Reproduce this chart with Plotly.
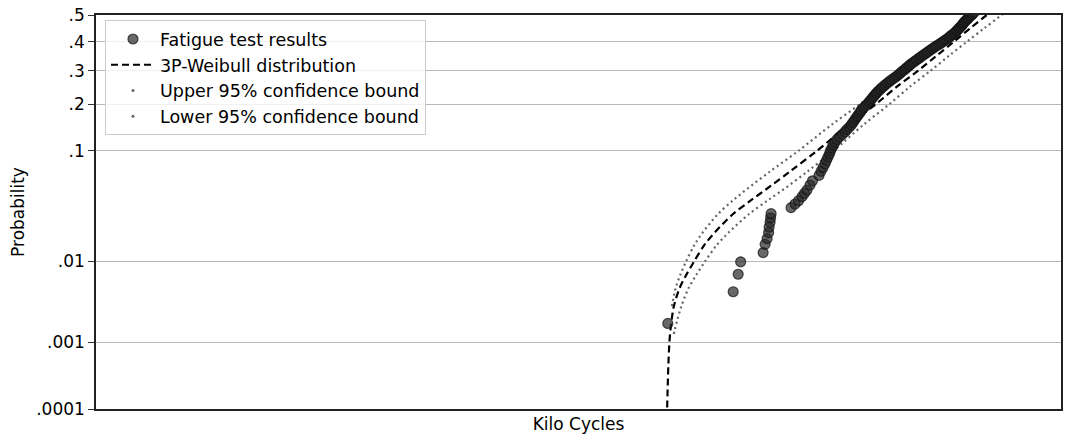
import plotly.graph_objects as go
from statistics import NormalDist

nd = NormalDist()

# ---------------- data (kilo cycles, probability) ----------------
test_cycles = [1238, 1369, 1379, 1384, 1429, 1433, 1437, 1440, 1441, 1443, 1444, 1445,
               1485, 1493, 1500, 1507, 1512, 1517, 1523, 1528,
               1541, 1545, 1549, 1553, 1556, 1559, 1562, 1564,
               1567, 1570, 1573, 1577, 1582, 1588, 1593, 1597, 1602, 1606,
               1609, 1612, 1615, 1618, 1621, 1624, 1626, 1630, 1634, 1638,
               1641, 1644, 1647, 1650, 1653, 1656, 1659, 1663, 1666, 1670,
               1674, 1678, 1682, 1686, 1691, 1695, 1699, 1703, 1706, 1710,
               1714, 1717, 1721, 1724, 1728, 1732, 1736, 1740, 1744, 1748,
               1752, 1756, 1760, 1764, 1768, 1772, 1776, 1781, 1785, 1789,
               1793, 1797, 1801, 1804, 1807, 1811, 1814, 1817, 1819, 1822,
               1824, 1827, 1829, 1831, 1833, 1836, 1839, 1841, 1844, 1847,
               1849, 1852]
test_prob = [0.0018, 0.0045, 0.0072, 0.0099, 0.01245, 0.0152, 0.0174, 0.0200, 0.0226, 0.0252, 0.0278, 0.0304,
             0.0345, 0.0372, 0.0398, 0.0432, 0.0462, 0.0493, 0.0542, 0.0588,
             0.065, 0.070, 0.075, 0.080, 0.085, 0.090, 0.095, 0.100,
             0.105, 0.110, 0.115, 0.120, 0.125, 0.130, 0.135, 0.140, 0.145, 0.150,
             0.155, 0.160, 0.165, 0.170, 0.175, 0.180, 0.185, 0.190, 0.195, 0.200,
             0.205, 0.210, 0.215, 0.220, 0.225, 0.230, 0.235, 0.240, 0.245, 0.250,
             0.255, 0.260, 0.265, 0.270, 0.275, 0.280, 0.285, 0.290, 0.295, 0.300,
             0.305, 0.310, 0.315, 0.320, 0.325, 0.330, 0.335, 0.340, 0.345, 0.350,
             0.355, 0.360, 0.365, 0.370, 0.375, 0.380, 0.385, 0.390, 0.395, 0.400,
             0.405, 0.410, 0.415, 0.420, 0.425, 0.430, 0.435, 0.440, 0.445, 0.450,
             0.455, 0.460, 0.465, 0.470, 0.475, 0.480, 0.485, 0.490, 0.495, 0.500,
             0.505, 0.510]

weib_prob = [0.00007, 0.0001, 0.0002, 0.0005, 0.001, 0.0015, 0.002, 0.003, 0.005, 0.007,
             0.01, 0.015, 0.02, 0.03, 0.04, 0.05, 0.07, 0.1, 0.15, 0.2,
             0.25, 0.3, 0.35, 0.4, 0.45, 0.5, 0.53]
weib_cycles = [1236.4, 1236.6, 1237.6, 1239.2, 1241.2, 1243.4, 1245.6, 1250.2, 1261.8, 1274.6,
               1290.6, 1311.4, 1331.8, 1368.2, 1404.2, 1435.2, 1483.2, 1537, 1600, 1655,
               1697.8, 1740, 1776.4, 1811, 1844, 1877, 1896]

upper_prob = [0.003, 0.005, 0.007, 0.01, 0.015, 0.02, 0.03, 0.04, 0.05, 0.07,
              0.1, 0.15, 0.2, 0.25, 0.3, 0.35, 0.4, 0.45, 0.5, 0.53]
upper_cycles = [1246.2, 1253.8, 1262.6, 1274.6, 1291.4, 1307.8, 1338.2, 1368.2, 1396.2, 1443.2,
                1500, 1566, 1623, 1666.8, 1710, 1747.4, 1783, 1817, 1851, 1868]

lower_prob = [0.0013, 0.0015, 0.002, 0.003, 0.005, 0.007, 0.01, 0.015, 0.02, 0.03,
              0.04, 0.05, 0.07, 0.1, 0.15, 0.2, 0.25, 0.3, 0.35, 0.4,
              0.45, 0.5, 0.53]
lower_cycles = [1250, 1252.2, 1257, 1265.2, 1279.8, 1294.6, 1312.6, 1336.4, 1359.8, 1400.2,
                1438.2, 1470.2, 1518.2, 1570, 1630, 1682, 1723.8, 1765, 1801.4, 1837,
                1872, 1907, 1927]

tick_probs = [0.0001, 0.001, 0.01, 0.1, 0.2, 0.3, 0.4, 0.5]
tick_text = ['.0001', '.001', '.01', '.1', '.2', '.3', '.4', '.5']


def probit(ps):
    return [nd.inv_cdf(p) for p in ps]


FONT = dict(family="DejaVu Sans", size=17, color="#000")
LEG_FONT = dict(family="DejaVu Sans", size=17.5, color="#000")
DOT_COLOR = "#666666"

fig = go.Figure()

fig.add_trace(go.Scatter(x=upper_cycles, y=probit(upper_prob), mode="lines",
                         line=dict(color=DOT_COLOR, width=2.2, dash="2px,3.3px",
                                   shape="spline", smoothing=0.9),
                         showlegend=False, hoverinfo="skip"))
fig.add_trace(go.Scatter(x=lower_cycles, y=probit(lower_prob), mode="lines",
                         line=dict(color=DOT_COLOR, width=2.2, dash="2px,3.3px",
                                   shape="spline", smoothing=0.9),
                         showlegend=False, hoverinfo="skip"))
fig.add_trace(go.Scatter(x=weib_cycles, y=probit(weib_prob), mode="lines",
                         line=dict(color="#000", width=2.2, dash="7px,4px",
                                   shape="spline", smoothing=0.9),
                         name="3P-Weibull distribution", legendrank=2))
fig.add_trace(go.Scatter(x=test_cycles, y=probit(test_prob), mode="markers",
                         marker=dict(size=10, color="rgba(40,40,40,0.7)",
                                     line=dict(color="rgba(15,15,15,0.7)", width=1.2)),
                         name="Fatigue test results", legendrank=1))
# legend keys for the dotted confidence bounds (single dot, as in the original)
fig.add_trace(go.Scatter(x=[None], y=[None], mode="markers",
                         marker=dict(size=3, color=DOT_COLOR),
                         name="Upper 95% confidence bound", legendrank=3))
fig.add_trace(go.Scatter(x=[None], y=[None], mode="markers",
                         marker=dict(size=3, color=DOT_COLOR),
                         name="Lower 95% confidence bound", legendrank=4))

fig.update_layout(
    width=1065, height=437,
    margin=dict(l=96, r=2, t=15, b=28),
    paper_bgcolor="white", plot_bgcolor="white",
    font=FONT,
    showlegend=True,
    legend=dict(x=0.0093, y=0.987, xanchor="left", yanchor="top",
                bgcolor="rgba(255,255,255,0.8)", bordercolor="#cccccc", borderwidth=1,
                font=LEG_FONT, traceorder="normal", itemwidth=44),
    xaxis=dict(range=[92, 2026], showticklabels=False, ticks="", showgrid=False,
               zeroline=False, showline=True, mirror=True, linecolor="#222", linewidth=1.5,
               title=dict(text="Kilo Cycles", font=FONT, standoff=8)),
    yaxis=dict(range=[nd.inv_cdf(0.0001), 0.0], tickvals=probit(tick_probs), ticktext=tick_text,
               showgrid=True, gridcolor="#b8b8b8", gridwidth=1.3, zeroline=False,
               ticks="outside", ticklen=6, tickwidth=1.3, tickcolor="#333",
               showline=True, mirror=True, linecolor="#222", linewidth=1.5,
               tickfont=FONT,
               title=dict(text="Probability", font=FONT, standoff=7)),
)

fig.write_html("out.html")
